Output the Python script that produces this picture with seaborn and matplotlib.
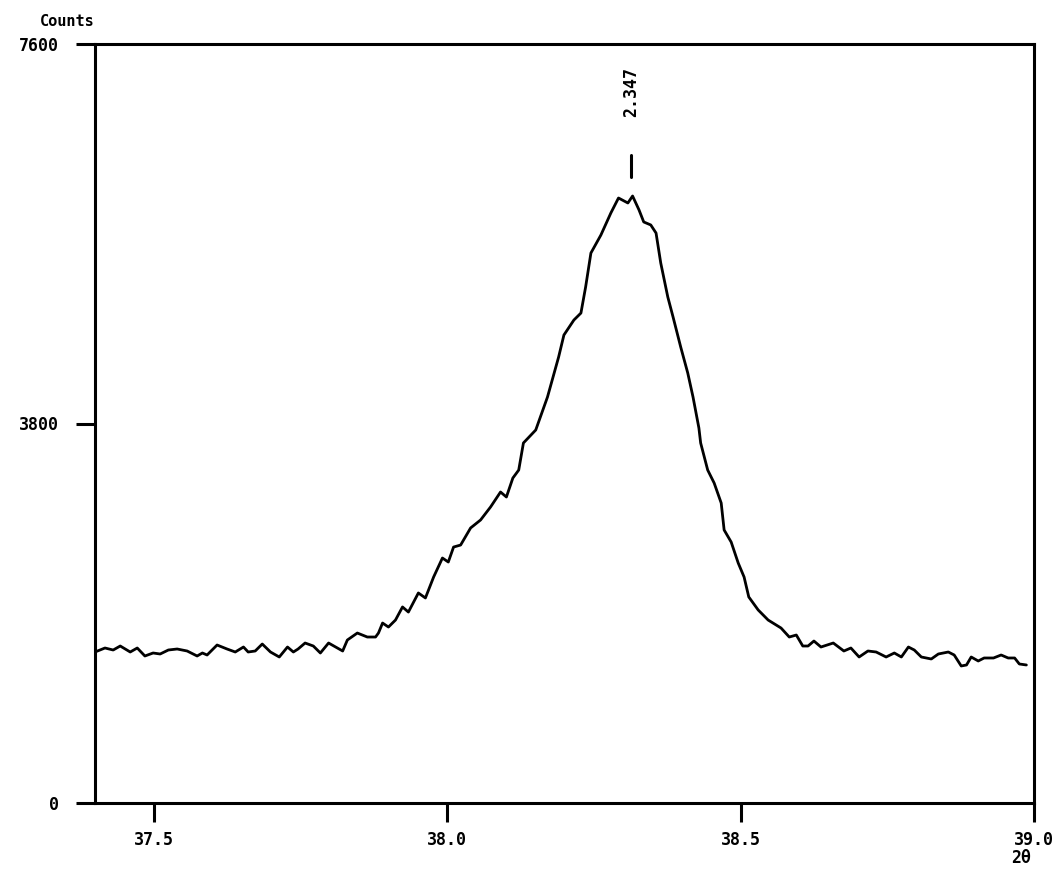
import matplotlib
matplotlib.use("Agg")
import matplotlib.pyplot as plt
import seaborn as sns
import pandas as pd

# ---- data ----
two_theta = [
    37.400, 37.417, 37.431, 37.443, 37.460, 37.472, 37.485, 37.499, 37.511, 37.525,
    37.540, 37.557, 37.574, 37.583, 37.591, 37.608, 37.625, 37.639, 37.653, 37.661,
    37.673, 37.685, 37.699, 37.714, 37.728, 37.738, 37.746, 37.758, 37.772, 37.784,
    37.798, 37.810, 37.822, 37.830, 37.847, 37.864, 37.878, 37.883, 37.890, 37.900,
    37.912, 37.924, 37.934, 37.951, 37.963, 37.977, 37.992, 38.002, 38.011, 38.023,
    38.040, 38.057, 38.074, 38.091, 38.101, 38.112, 38.122, 38.130, 38.151, 38.171,
    38.190, 38.199, 38.216, 38.228, 38.236, 38.245, 38.262, 38.279, 38.292, 38.308,
    38.316, 38.327, 38.335, 38.347, 38.356, 38.364, 38.376, 38.385, 38.398, 38.410,
    38.419, 38.429, 38.432, 38.444, 38.455, 38.467, 38.472, 38.484, 38.496, 38.506,
    38.514, 38.530, 38.547, 38.569, 38.583, 38.595, 38.600, 38.606, 38.615, 38.625,
    38.637, 38.658, 38.676, 38.688, 38.702, 38.717, 38.731, 38.748, 38.762, 38.774,
    38.786, 38.796, 38.808, 38.825, 38.837, 38.854, 38.864, 38.876, 38.885, 38.893,
    38.905, 38.915, 38.931, 38.944, 38.956, 38.967, 38.975, 38.987,
]
counts = [
    1512, 1552, 1532, 1572, 1512, 1552, 1472, 1502, 1492, 1532,
    1542, 1522, 1472, 1502, 1482, 1582, 1542, 1512, 1562, 1512,
    1522, 1592, 1512, 1462, 1562, 1512, 1542, 1602, 1572, 1502,
    1602, 1562, 1522, 1632, 1702, 1662, 1662, 1702, 1802, 1762,
    1832, 1963, 1912, 2103, 2053, 2263, 2453, 2413, 2563, 2583,
    2754, 2834, 2964, 3114, 3064, 3254, 3334, 3605, 3735, 4065,
    4466, 4686, 4836, 4906, 5167, 5507, 5687, 5908, 6058, 6008,
    6078, 5938, 5818, 5788, 5707, 5407, 5067, 4866, 4566, 4306,
    4065, 3755, 3605, 3334, 3204, 3004, 2734, 2613, 2403, 2263,
    2063, 1933, 1832, 1752, 1662, 1682, 1632, 1572, 1572, 1622,
    1562, 1602, 1522, 1552, 1462, 1522, 1512, 1462, 1502, 1462,
    1562, 1532, 1462, 1442, 1492, 1512, 1482, 1372, 1382, 1462,
    1422, 1452, 1452, 1482, 1452, 1452, 1392, 1382,
]
x_ticks = [37.5, 38.0, 38.5, 39.0]
x_tick_labels = ["37.5", "38.0", "38.5", "39.0"]
y_ticks = [0, 3800, 7600]
y_tick_labels = ["0", "3800", "7600"]
peak_pos = 38.313
peak_d = "2.347"
peak_mark = [6268, 6488]
peak_text_y = 7119

df = pd.DataFrame({"two_theta": two_theta, "counts": counts})

sns.set_theme(style="ticks")
plt.rcParams["font.family"] = ["DejaVu Sans Mono", "DejaVu Sans"]
plt.rcParams["font.weight"] = "bold"

fig = plt.figure(figsize=(10.61, 8.76), dpi=100)
ax = fig.add_axes([95 / 1061, 1 - 803 / 876, (1034 - 95) / 1061, (803 - 44) / 876])

sns.lineplot(data=df, x="two_theta", y="counts", ax=ax, color="black",
             linewidth=2.0, estimator=None, sort=False)

ax.set_xlim(37.4, 39.0)
ax.set_ylim(0, 7600)
ax.set_xticks(x_ticks)
ax.set_xticklabels(x_tick_labels)
ax.set_yticks(y_ticks)
ax.set_yticklabels(y_tick_labels)
ax.set_xlabel("")
ax.set_ylabel("")

for s in ax.spines.values():
    s.set_visible(True)
    s.set_color("black")
    s.set_linewidth(2.2)

ax.tick_params(axis="both", which="major", bottom=True, left=True, top=False, right=False,
               direction="out", length=14, width=2.2, color="black",
               labelsize=12, labelcolor="black")
ax.tick_params(axis="y", pad=12)
ax.tick_params(axis="x", pad=6)
for lbl in ax.get_xticklabels() + ax.get_yticklabels():
    lbl.set_fontweight("bold")

# peak marker and d-spacing label
ax.plot([peak_pos, peak_pos], peak_mark, color="black", linewidth=2.2)
ax.text(peak_pos, peak_text_y, peak_d, rotation=90, ha="center", va="center",
        fontsize=12, fontweight="bold", color="black")

# axis titles
fig.text(67 / 1061, 1 - 21 / 876, "Counts", ha="center", va="center",
         fontsize=11, fontweight="bold", color="black")
fig.text(1021 / 1061, 1 - 858 / 876, "2θ", ha="center", va="center",
         fontsize=12, fontweight="bold", color="black")

fig.savefig("out.png", dpi=100, facecolor="white")
